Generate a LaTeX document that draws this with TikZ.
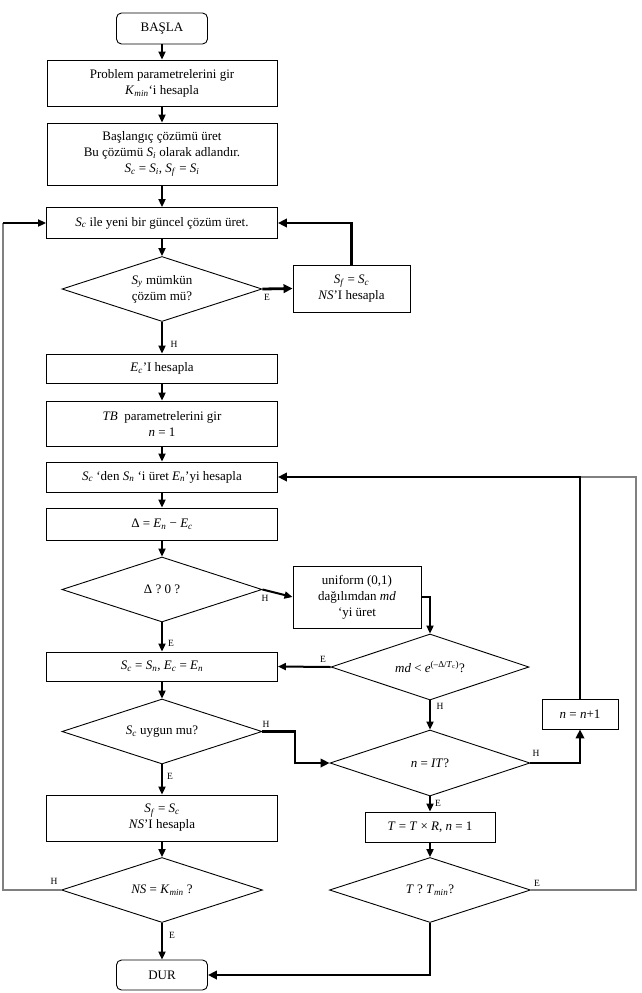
\documentclass[tikz,border=0pt]{standalone}
\usepackage{fontspec}
\setmainfont{Liberation Serif}
\usetikzlibrary{shapes.geometric,arrows.meta}
\newcommand\Ss[2]{\textit{#1}\textsubscript{\textit{#2}}}
\begin{document}
\begin{tikzpicture}[x=1pt,y=-1pt,
  font=\fontsize{13}{16}\selectfont,
  box/.style={draw, line width=0.9pt, rectangle, inner sep=0pt, align=center},
  term/.style={box, rounded corners=5pt},
  dia/.style={draw, line width=0.9pt, diamond, aspect=3, inner sep=0pt, align=center, minimum width=200pt, minimum height=65pt},
  arr/.style={line width=2pt, -{Triangle[length=8pt,width=7pt]}},
  tarr/.style={line width=2.8pt, -{Triangle[length=9pt,width=8.5pt]}},
  lbl/.style={font=\fontsize{9.5}{10}\selectfont, inner sep=0pt},
  grayloop/.style={line width=1.4pt, draw=black!50}]
\useasboundingbox (0,0) rectangle (641,993);

% left column
\node[term, minimum width=91pt, minimum height=31pt] (basla) at (162,28.5) {BAŞLA};
\node[box, minimum width=230pt, minimum height=46pt] (b1) at (162,83) {Problem parametrelerini gir\\ \Ss{K}{min}‘i hesapla};
\node[box, minimum width=230pt, minimum height=62pt] (b2) at (162,154) {Başlangıç çözümü üret\\ Bu çözümü \Ss{S}{i} olarak adlandır.\\ \Ss{S}{c} = \Ss{S}{i}, \Ss{S}{f} = \Ss{S}{i}};
\node[box, minimum width=231pt, minimum height=31pt] (b3) at (162,223) {\Ss{S}{c} ile yeni bir güncel çözüm üret.};
\node[dia] (d1) at (162,289) {\Ss{S}{y} mümkün\\ çözüm mü?};
\node[box, minimum width=117pt, minimum height=47pt] (bsf) at (351.5,288.5) {\Ss{S}{f} = \Ss{S}{c}\\ \textit{NS}’I hesapla};
\node[box, minimum width=231pt, minimum height=29pt] (bEc) at (162,368.5) {\Ss{E}{c}’I hesapla};
\node[box, minimum width=231pt, minimum height=45pt] (bTB) at (162,423.5) {\textit{TB} \ parametrelerini gir\\ \textit{n} = 1};
\node[box, minimum width=231pt, minimum height=30pt] (bSn) at (162,477) {\Ss{S}{c} ‘den \Ss{S}{n} ‘i üret \Ss{E}{n}’yi hesapla};
\node[box, minimum width=231pt, minimum height=32pt] (bD) at (162,524) {Δ = \Ss{E}{n} − \Ss{E}{c}};
\node[dia] (d2) at (162,589.5) {Δ ? 0 ?};
\node[box, minimum width=128pt, minimum height=62pt] (bu) at (357,597) {uniform (0,1)\\ dağılımdan \textit{md}\\ ‘yi üret};
\node[dia, minimum width=198pt, minimum height=66pt] (d3) at (430,667) {\textit{md} < \textit{e}\textsuperscript{(–Δ/\textit{T}\textsubscript{c})}?};
\node[box, minimum width=231pt, minimum height=29pt] (bSc) at (162,666.5) {\Ss{S}{c} = \Ss{S}{n}, \Ss{E}{c} = \Ss{E}{n}};
\node[dia] (d4) at (162,731.5) {\Ss{S}{c} uygun mu?};
\node[box, minimum width=231pt, minimum height=46pt] (bSf) at (162,818) {\Ss{S}{f} = \Ss{S}{c}\\ \textit{NS}’I hesapla};
\node[dia, minimum height=66pt] (d5) at (430,763) {\textit{n} = \textit{IT}?};
\node[box, minimum width=76pt, minimum height=30pt] (bnn) at (580,714) {\textit{n} = \textit{n}+1};
\node[box, minimum width=130pt, minimum height=30pt] (bT) at (430,827) {\textit{T} = \textit{T} × \textit{R}, \textit{n} = 1};
\node[dia, minimum width=201pt] (d6) at (162,890) {\textit{NS} = \Ss{K}{min} ?};
\node[dia, minimum width=201pt] (d7) at (430,890) {\textit{T} ? \Ss{T}{min}?};
\node[term, minimum width=91pt, minimum height=30pt] (dur) at (162,975) {DUR};

% coordinates for loops
\coordinate (lc) at (3,223);
\coordinate (lcb) at (3,890);
\coordinate (rc) at (636,477);
\coordinate (rcb) at (636,890);
\coordinate (jn) at (580,477);
\coordinate (k4) at (295,731.5);

% main vertical chain
\draw[arr] (basla) -- (b1);
\draw[arr] (b1) -- (b2);
\draw[arr] (b2) -- (b3);
\draw[arr] (b3) -- (d1);
\draw[arr] (d1.south) -- (bEc.north);
\draw[arr] (bEc) -- (bTB);
\draw[arr] (bTB) -- (bSn);
\draw[arr] (bSn) -- (bD);
\draw[arr] (bD) -- (d2.north);
\draw[arr] (d2.south) -- (bSc.north);
\draw[arr] (bSc) -- (d4.north);
\draw[arr] (d4.south) -- (bSf.north);
\draw[arr] (bSf) -- (d6.north);
\draw[arr] (d6.south) -- (dur.north);

% right branches
\draw[tarr] (d1.east) -- (bsf.west);
\draw[tarr] (bsf.north) |- (b3.east);
\draw[arr] (d2.east) -- (bu.west);
\draw[arr] (bu.east) -| (d3.north);
\draw[arr] (d3.west) -- (bSc.east);
\draw[arr] (d3.south) -- (d5.north);
\draw[tarr] (d4.east) -- (k4) |- (d5.west);
\draw[tarr] (d5.east) -| (bnn.south);
\draw[grayloop] (d7.east) -- (rcb) -- (rc) -- (jn);
\draw[tarr] (bnn.north) |- (bSn.east);
\draw[arr] (d5.south) -- (bT.north);
\draw[arr] (bT.south) -- (d7.north);
\draw[tarr] (d7.south) |- (dur.east);

% left loop
\draw[grayloop] (d6.west) -- (lcb) -- (lc);
\draw[arr] (lc) -- (b3.west);

% labels
\node[lbl] (l1) at (267,297) {E};
\node[lbl] (l2) at (174,344) {H};
\node[lbl] (l3) at (265,598) {H};
\node[lbl] (l4) at (171,643) {E};
\node[lbl] (l5) at (323,659) {E};
\node[lbl] (l6) at (266,724) {H};
\node[lbl] (l7) at (170,776) {E};
\node[lbl] (l8) at (440,706) {H};
\node[lbl] (l9) at (536,753) {H};
\node[lbl] (l10) at (438,803) {E};
\node[lbl] (l11) at (54,881) {H};
\node[lbl] (l12) at (172,935) {E};
\node[lbl] (l13) at (537,883) {E};
\end{tikzpicture}
\end{document}
